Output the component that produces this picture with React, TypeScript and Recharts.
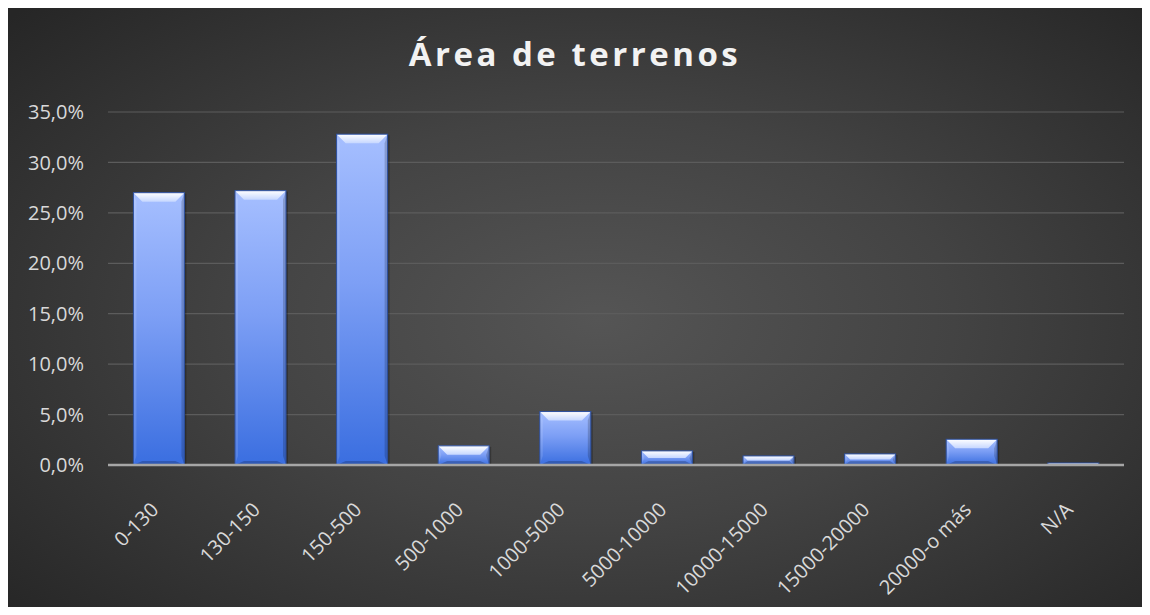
import React from "react";
import { BarChart, Bar, XAxis, YAxis, CartesianGrid } from "recharts";

const categories = ["0-130", "130-150", "150-500", "500-1000", "1000-5000", "5000-10000", "10000-15000", "15000-20000", "20000-o más", "N/A"];
const shares = [0.270, 0.272, 0.328, 0.019, 0.053, 0.014, 0.009, 0.011, 0.0255, 0.002];
const yTicks = [0, 0.05, 0.1, 0.15, 0.2, 0.25, 0.3, 0.35];
const title = "Área de terrenos";

const data = categories.map((c, i) => ({ name: c, value: shares[i] }));

const FONT = "'Open Sans', 'Noto Sans', sans-serif";
const W = 1134;
const H = 599;

const fmt = (v: number) => (v * 100).toFixed(1).replace(".", ",") + "%";

function BevelBar(props: any) {
  const { x, y, width, height } = props;
  if (!(height > 0)) return null;
  const h = Math.max(height, 1);
  const b = Math.min(9, h / 2, width / 2);
  const sb = Math.min(3, h / 2, width / 2);
  const x2 = x + width;
  const y2 = y + h;
  return (
    <g>
      <rect x={x + 2} y={y + 1} width={width} height={h} fill="#000" opacity={0.25} />
      <rect x={x} y={y} width={width} height={h} fill="url(#barGrad)" />
      <polygon points={`${x},${y} ${x + sb},${y + b} ${x + sb},${y2 - b} ${x},${y2}`} fill="#ffffff" opacity={0.12} />
      <polygon points={`${x2},${y} ${x2 - sb},${y + b} ${x2 - sb},${y2 - b} ${x2},${y2}`} fill="#000000" opacity={0.18} />
      <polygon points={`${x},${y2} ${x + b},${y2 - Math.min(4, h / 2)} ${x2 - b},${y2 - Math.min(4, h / 2)} ${x2},${y2}`} fill="#000" opacity={0.2} />
      <polygon points={`${x},${y} ${x2},${y} ${x2 - b},${y + b} ${x + b},${y + b}`} fill="url(#bevelGrad)" />
      <rect x={x} y={y} width={width} height={h} fill="none" stroke="#2c4f9e" strokeWidth={1} />
    </g>
  );
}

function XTick(props: any) {
  const { x, y, payload } = props;
  return (
    <g transform={`translate(${x - 4},${y + 39})`}>
      <text x={0} y={0} dy="0.35em" textAnchor="end" transform="rotate(-45)" fill="#d9d9d9" fontSize={20} fontFamily={FONT}>
        {payload.value}
      </text>
    </g>
  );
}

export default function App() {
  return (
    <div
      style={{
        position: "relative",
        width: W,
        height: H,
        background: "radial-gradient(ellipse 70% 75% at 52% 52%, #555555 0%, #434343 45%, #262626 100%)",
        fontFamily: FONT,
      }}
    >
      <div
        style={{
          position: "absolute",
          left: 0,
          top: 26,
          width: W,
          textAlign: "center",
          color: "#f2f2f2",
          fontSize: 33,
          fontWeight: 700,
          letterSpacing: 3.5,
          fontFamily: FONT,
          lineHeight: "40px",
        }}
      >
        {title}
      </div>
      <div style={{ position: "absolute", left: 0, top: 0 }}>
        <BarChart width={W} height={H} data={data} margin={{ top: 104, right: 18, left: 0, bottom: 0 }} barCategoryGap="25%">
          <defs>
            <linearGradient id="barGrad" x1="0" y1="0" x2="0" y2="1">
              <stop offset="0%" stopColor="#a6bfff" />
              <stop offset="45%" stopColor="#7d9ff5" />
              <stop offset="100%" stopColor="#3a6ee0" />
            </linearGradient>
            <linearGradient id="bevelGrad" x1="0" y1="0" x2="0" y2="1">
              <stop offset="0%" stopColor="#ffffff" />
              <stop offset="100%" stopColor="#c6d7ff" />
            </linearGradient>
          </defs>
          <CartesianGrid vertical={false} stroke="#5c5c5c" strokeWidth={1.2} />
          <XAxis
            dataKey="name"
            interval={0}
            tick={<XTick />}
            tickLine={false}
            tickSize={0}
            height={142}
            axisLine={{ stroke: "#a6a6a6", strokeWidth: 2.5 }}
          />
          <YAxis
            domain={[0, 0.35]}
            ticks={yTicks}
            tickFormatter={fmt}
            width={100}
            axisLine={false}
            tickLine={false}
            tickSize={0}
            tickMargin={24}
            tick={{ fill: "#d9d9d9", fontSize: 20, fontFamily: FONT }}
          />
          <Bar dataKey="value" shape={<BevelBar />} isAnimationActive={false} />
        </BarChart>
      </div>
    </div>
  );
}
